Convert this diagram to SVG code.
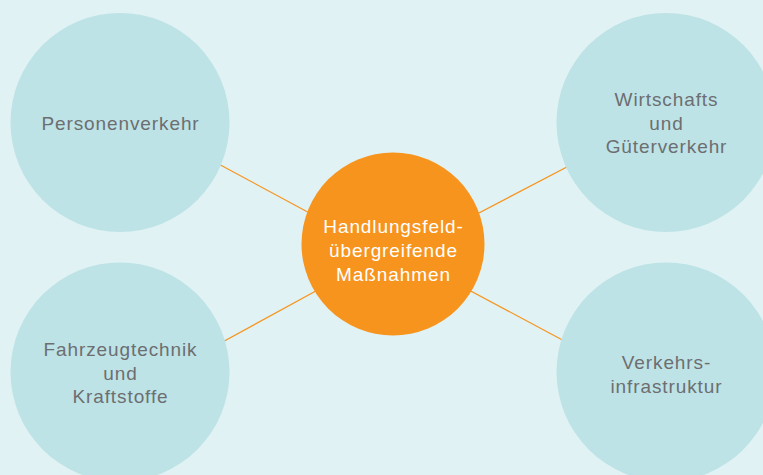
<svg xmlns="http://www.w3.org/2000/svg" width="763" height="475" viewBox="0 0 763 475">
<style>
.n{fill:#bde3e7}
.t{font-family:"Liberation Sans",Arial,sans-serif;font-size:19px;fill:#6d6e70;text-anchor:middle;letter-spacing:0.9px}
.c{font-family:"Liberation Sans",Arial,sans-serif;font-size:19px;fill:#ffffff;text-anchor:middle;letter-spacing:0.9px}
.e{stroke:#f7941d;stroke-width:1.2;fill:none}
</style>
<rect width="763" height="475" fill="#e0f2f3"/>
<g id="connectors">
<line class="e" x1="200" y1="154" x2="330" y2="224"/>
<line class="e" x1="586" y1="157" x2="456" y2="225"/>
<line class="e" x1="206" y1="351" x2="336" y2="280"/>
<line class="e" x1="583" y1="351" x2="452" y2="281"/>
</g>
<g id="personenverkehr">
<circle class="n" cx="120" cy="122.5" r="109.5"/>
<text class="t" x="120.5" y="130">Personenverkehr</text>
</g>
<g id="wirtschaftsverkehr">
<circle class="n" cx="666" cy="122.5" r="109.5"/>
<text class="t" x="666.5" y="106">Wirtschafts</text>
<text class="t" x="666.5" y="129.5">und</text>
<text class="t" x="666.5" y="153">Güterverkehr</text>
</g>
<g id="fahrzeugtechnik">
<circle class="n" cx="120" cy="372" r="109.5"/>
<text class="t" x="120.5" y="356">Fahrzeugtechnik</text>
<text class="t" x="120.5" y="379.5">und</text>
<text class="t" x="120.5" y="403">Kraftstoffe</text>
</g>
<g id="verkehrsinfrastruktur">
<circle class="n" cx="666" cy="372" r="109.5"/>
<text class="t" x="666.5" y="369">Verkehrs-</text>
<text class="t" x="666.5" y="393">infrastruktur</text>
</g>
<g id="zentrum">
<circle cx="393" cy="244" r="91.5" fill="#f7941d"/>
<text class="c" x="393.5" y="233">Handlungsfeld-</text>
<text class="c" x="393.5" y="257">übergreifende</text>
<text class="c" x="393.5" y="280.5">Maßnahmen</text>
</g>
</svg>
